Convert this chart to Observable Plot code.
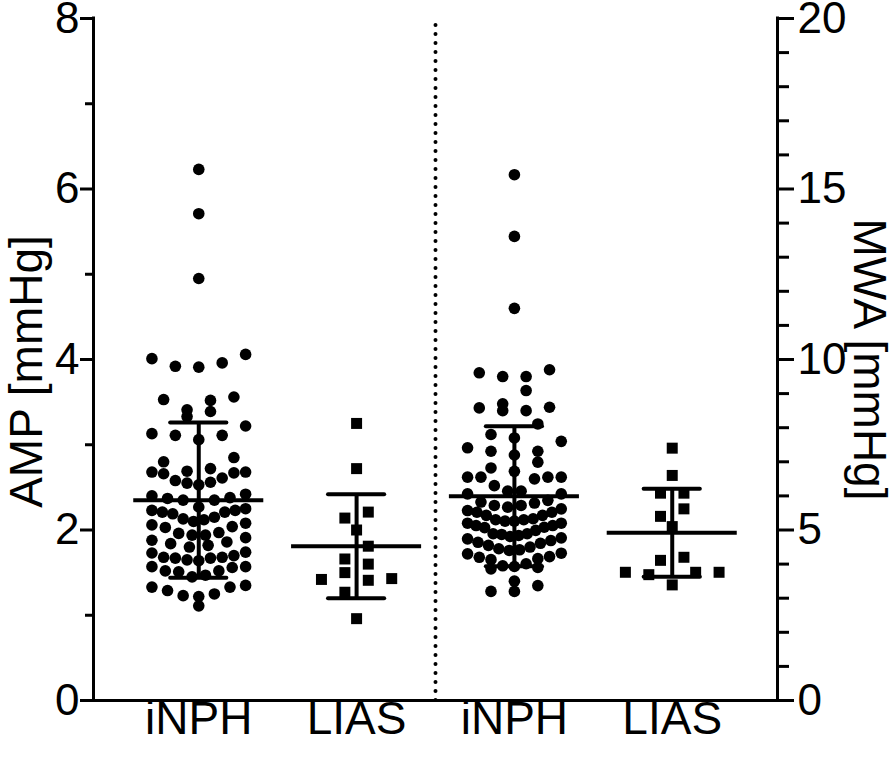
<!DOCTYPE html>
<html><head><meta charset="utf-8">
<script src="https://cdn.jsdelivr.net/npm/d3@7"></script>
<script src="https://cdn.jsdelivr.net/npm/@observablehq/plot@0.6"></script>
<style>body{margin:0;background:#fff}</style>
</head><body><div id="chart"></div>
<script>
// ---- data ----
const categories = ["iNPH", "LIAS", "iNPH", "LIAS"];
const measures = ["AMP", "AMP", "MWA", "MWA"];
const ampINPH = [6.23, 5.71, 4.95,
  4.06, 4.01, 3.96, 3.92, 3.91,
  3.56, 3.53, 3.52,
  3.41, 3.39, 3.33,
  3.22, 3.13, 3.11, 3.11, 3.06,
  2.85, 2.80,
  2.72, 2.69, 2.68, 2.68, 2.67, 2.66, 2.61, 2.58, 2.56,
  2.55, 2.53,
  2.42, 2.40, 2.38, 2.37, 2.35, 2.35,
  2.27, 2.25, 2.23, 2.23, 2.21, 2.21, 2.19,
  2.15, 2.13, 2.12, 2.10, 2.08, 2.06, 2.04, 2.03, 1.97,
  1.96, 1.94, 1.94, 1.91, 1.88, 1.86, 1.84, 1.82, 1.80,
  1.74, 1.73, 1.70, 1.68, 1.68, 1.67, 1.67, 1.65, 1.64,
  1.57, 1.57, 1.56,
  1.52, 1.52, 1.51, 1.47, 1.45,
  1.35, 1.33, 1.33,
  1.29, 1.25, 1.23, 1.22, 1.11];
const ampLIAS = [3.25, 2.72, 2.21, 2.14, 2.00, 1.81, 1.66, 1.60, 1.50, 1.43, 1.42, 1.41, 1.27, 0.96];
const mwaINPH = [15.42, 13.61, 11.50,
  9.70, 9.61, 9.50, 9.50, 9.09,
  8.70, 8.60, 8.58, 8.50, 8.50,
  8.11, 7.80, 7.70, 7.60,
  7.41, 7.31, 7.31, 7.20, 6.99,
  6.82, 6.72, 6.55, 6.55, 6.55, 6.55, 6.50,
  6.30, 6.14, 6.14, 6.06, 6.06, 5.87, 5.82,
  5.79, 5.72, 5.72, 5.67, 5.62, 5.57, 5.52, 5.52, 5.43, 5.43, 5.33,
  5.30, 5.30, 5.26, 5.26, 5.20, 5.20, 5.13, 5.13, 5.08, 5.07, 4.99,
  4.89, 4.89, 4.87, 4.84, 4.81, 4.77, 4.74, 4.69, 4.64, 4.61, 4.55,
  4.50, 4.45, 4.42, 4.40, 4.32, 4.30, 4.22, 4.20, 4.16, 4.13, 4.01,
  3.95, 3.93, 3.90, 3.86,
  3.50, 3.37, 3.20, 3.20];
const mwaLIAS = [7.40, 6.60, 6.08, 6.08, 5.62, 5.40, 5.10, 4.20, 4.11, 3.76, 3.76, 3.76, 3.69, 3.39];
const means = [2.35, 1.81, 5.99, 4.92];
const sds = [0.91, 0.61, 2.05, 1.29];
const ampTicks = [0, 2, 4, 6, 8];
const ampMinor = [1, 3, 5, 7];
const mwaTicks = [0, 5, 10, 15, 20];
const mwaMinor = [1, 2, 3, 4, 6, 7, 8, 9, 11, 12, 13, 14, 16, 17, 18, 19];
const leftTitle = "AMP [mmHg]";
const rightTitle = "MWA [mmHg]";

// ---- layout ----
const MWA_PER_AMP = 2.5;            // right axis 0-20 vs left axis 0-8
const toY = (v, m) => m === "MWA" ? v / MWA_PER_AMP : v;
const groups = [ampINPH, ampLIAS, mwaINPH, mwaLIAS];
const ROW = 0.165, SLOT = 0.0742;

function layout(values, gi) {
  const pts = values.map(v => ({g: gi, v, y: toY(v, measures[gi]), cat: categories[gi]}));
  pts.sort((a, b) => b.y - a.y);
  const rows = []; let cur = null;
  for (const p of pts) {
    if (!cur || cur[0].y - p.y > ROW) { cur = [p]; rows.push(cur); } else cur.push(p);
  }
  for (const row of rows) {
    const n = row.length;
    const step = n <= 1 ? 0 : Math.min(2, 8 / (n - 1));
    const offs = d3.range(n).map(i => (i - (n - 1) / 2) * step)
      .sort((a, b) => Math.abs(a) - Math.abs(b) || a - b);
    const asc = row.slice().sort((a, b) => a.y - b.y);
    asc.forEach((p, i) => { p.x = gi + offs[i] * SLOT; });
  }
  return pts;
}
const points = groups.flatMap((vals, gi) => layout(vals, gi));
const circles = points.filter(p => p.cat === "iNPH");
const squares = points.filter(p => p.cat === "LIAS");
const stats = categories.map((c, i) => ({i, m: toY(means[i], measures[i]), s: toY(sds[i], measures[i])}));

const X0 = -0.667, X1 = 3.667;
const W = 4, CAP = 0.178, MEANW = 0.412;
const FS = 44, FT = 46;

const chart = Plot.plot({
  width: 896, height: 759,
  marginLeft: 93, marginRight: 119, marginTop: 18, marginBottom: 59,
  style: {fontFamily: "'Liberation Sans', Arial, sans-serif", color: "black", background: "white"},
  x: {domain: [X0, X1], axis: null},
  y: {domain: [0, 8], axis: null},
  marks: [
    Plot.ruleX([1.5], {y1: 0, y2: 8, strokeWidth: 4, strokeDasharray: "0,9", strokeLinecap: "round"}),
    Plot.dot(circles, {x: "x", y: "y", r: 5.8, fill: "black", stroke: null}),
    Plot.dot(squares, {x: "x", y: "y", r: 6.2, symbol: "square", fill: "black", stroke: null}),
    Plot.ruleY(stats, {y: "m", x1: d => d.i - MEANW, x2: d => d.i + MEANW, strokeWidth: W}),
    Plot.ruleX(stats, {x: "i", y1: d => d.m - d.s, y2: d => d.m + d.s, strokeWidth: W}),
    Plot.ruleY(stats, {y: d => d.m + d.s, x1: d => d.i - CAP, x2: d => d.i + CAP, strokeWidth: W, strokeLinecap: "round"}),
    Plot.ruleY(stats, {y: d => d.m - d.s, x1: d => d.i - CAP, x2: d => d.i + CAP, strokeWidth: W, strokeLinecap: "round"}),
    // axis lines
    Plot.ruleX([X0, X1], {y1: 0, y2: 8, strokeWidth: 3, strokeLinecap: "square"}),
    Plot.ruleY([0], {x1: X0, x2: X1, strokeWidth: 3, strokeLinecap: "square"}),
    // left axis
    Plot.axisY({anchor: "left", ticks: ampTicks, tickSize: 13, tickPadding: 1, fontSize: FS, strokeWidth: 3, label: null}),
    Plot.axisY({anchor: "left", ticks: ampMinor, tickSize: 8, tickFormat: () => "", strokeWidth: 3, label: null}),
    // right axis
    Plot.axisY({anchor: "right", ticks: mwaTicks.map(v => v / MWA_PER_AMP), tickFormat: d => String(Math.round(d * MWA_PER_AMP)),
      tickSize: 16, tickPadding: 4, fontSize: FS, strokeWidth: 3, label: null}),
    Plot.axisY({anchor: "right", ticks: mwaMinor.map(v => v / MWA_PER_AMP), tickSize: 11, tickFormat: () => "", strokeWidth: 3, label: null}),
    // x axis labels
    Plot.axisX({ticks: d3.range(categories.length), tickFormat: i => categories[i], tickSize: 0, tickPadding: 1, fontSize: FT, label: null}),
    // axis titles
    Plot.text([leftTitle], {frameAnchor: "left", textAnchor: "middle", dx: -66, dy: 12, rotate: -90, fontSize: FT, fill: "black"}),
    Plot.text([rightTitle], {frameAnchor: "right", textAnchor: "middle", dx: 91, dy: 0, rotate: 90, fontSize: FT, fill: "black"})
  ]
});
document.getElementById("chart").append(chart);
</script>
</body></html>
